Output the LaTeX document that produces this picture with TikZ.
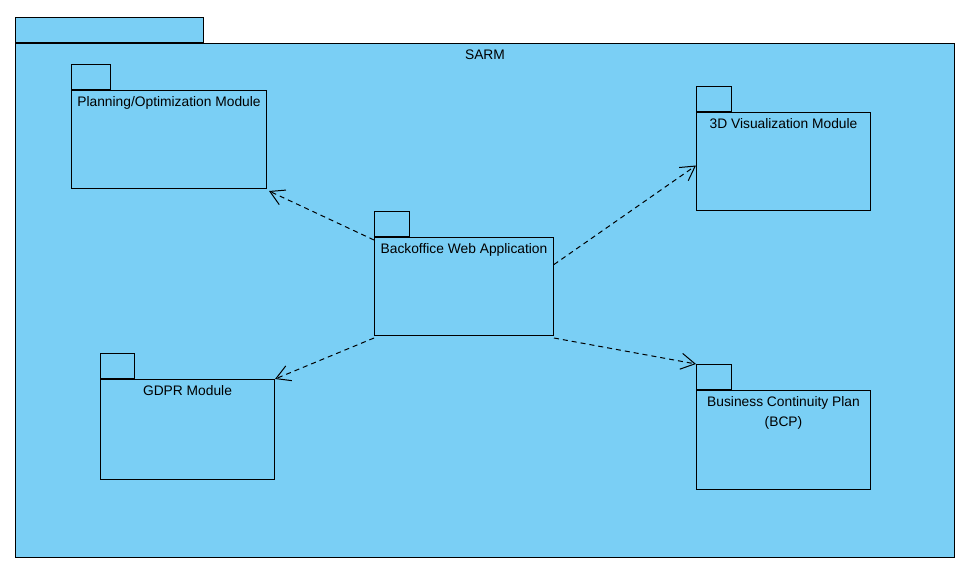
\documentclass[tikz,border=0pt]{standalone}
\usepackage{fontspec}
\setmainfont{Liberation Sans}
\usetikzlibrary{arrows.meta}
\definecolor{pkgblue}{HTML}{7ACFF5}

\begin{document}
\begin{tikzpicture}[x=1pt, y=-1pt,
  pkg/.style={draw, fill=pkgblue, line width=1pt, inner sep=0pt, anchor=north west},
  tab/.style={draw, fill=pkgblue, line width=1pt, inner sep=0pt, minimum height=25pt,
              anchor=south west},
  ttl/.style={anchor=north, yshift=-4.5pt, inner sep=2pt, align=center,
              font=\fontsize{13.8}{20}\selectfont},
  dep/.style={-{Straight Barb[length=14pt, width=16pt]}, dash pattern=on 5pt off 4pt,
              line width=1pt},
]
\useasboundingbox (0,0) rectangle (974,568);

% --- Outer package ---
\node[pkg, minimum width=939pt, minimum height=514pt,
      label={[ttl]north:SARM}] (sarm) at (15,43) {};
\node[tab, minimum width=188pt] (sarmtab) at (sarm.north west) {};

% --- Inner packages ---
\node[pkg, minimum width=195pt, minimum height=98pt,
      label={[ttl]north:Planning/Optimization Module}] (plan) at (71,90) {};
\node[tab, minimum width=39pt] (plantab) at (plan.north west) {};

\node[pkg, minimum width=174pt, minimum height=98pt,
      label={[ttl]north:3D Visualization Module}] (vis) at (696,112) {};
\node[tab, minimum width=35pt] (vistab) at (vis.north west) {};

\node[pkg, minimum width=179pt, minimum height=98pt,
      label={[ttl]north:Backoffice Web Application}] (back) at (374,237) {};
\node[tab, minimum width=35pt] (backtab) at (back.north west) {};

\node[pkg, minimum width=174pt, minimum height=100pt,
      label={[ttl]north:GDPR Module}] (gdpr) at (100,379) {};
\node[tab, minimum width=34pt] (gdprtab) at (gdpr.north west) {};

\node[pkg, minimum width=174pt, minimum height=99pt,
      label={[ttl]north:Business Continuity Plan\\(BCP)}] (bcp) at (696,390) {};
\node[tab, minimum width=35pt] (bcptab) at (bcp.north west) {};

% --- Dependencies ---
\draw[dep] ([yshift=-3pt]back.north west) -- ([xshift=2pt, yshift=-2pt]plan.south east);
\draw[dep] ([yshift=22pt]back.east) -- ([yshift=-4pt]vis.west);
\draw[dep] ([yshift=-2pt]back.south west) -- (gdpr.north east);
\draw[dep] ([yshift=-2pt]back.south east) -- (bcptab.north west);

\end{tikzpicture}
\end{document}
